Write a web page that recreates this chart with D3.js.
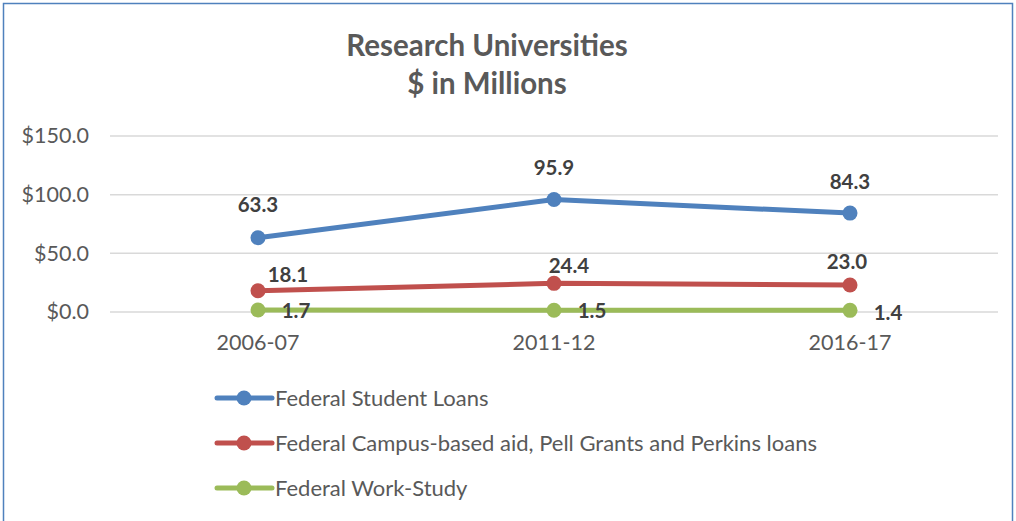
<!DOCTYPE html>
<html>
<head>
<meta charset="utf-8">
<script src="https://cdn.jsdelivr.net/npm/d3@7"></script>
<style>
  html, body { margin: 0; padding: 0; background: #fff; }
  svg { display: block; }
  text { font-family: Lato, "Open Sans", sans-serif; }
</style>
</head>
<body>
<svg id="chart" width="1016" height="521"></svg>
<script>
// Chart data
const titleLines = ["Research Universities", "$ in Millions"];
const years = ["2006-07", "2011-12", "2016-17"];
const seriesNames = [
  "Federal Student Loans",
  "Federal Campus-based aid, Pell Grants and Perkins loans",
  "Federal Work-Study"
];
const studentLoans = [63.3, 95.9, 84.3];
const campusAid = [18.1, 24.4, 23.0];
const workStudy = [1.7, 1.5, 1.4];
const yTicks = [0, 50, 100, 150];

// Presentation
const colors = ["#4F81BD", "#C0504D", "#9BBB59"];
// hand-placed label offsets (dx, dy) relative to each point
const labelOffsets = [
  [[0, -33], [0, -32], [0, -31]],
  [[30, -16], [15, -18], [-3, -23]],
  [[38, 1], [38, 1], [38, 2]]
];

const seriesValues = [studentLoans, campusAid, workStudy];
const svg = d3.select("#chart");
const grey = "#595959";

// outer frame
svg.append("rect")
  .attr("x", 3.5).attr("y", 3.5)
  .attr("width", 1009).attr("height", 530)
  .attr("fill", "#fff")
  .attr("stroke", "#4F81BD").attr("stroke-width", 1.5);

// title
svg.append("g").selectAll("text").data(titleLines).join("text")
  .attr("x", 487).attr("y", (d, i) => 56 + i * 38)
  .attr("text-anchor", "middle")
  .attr("font-size", 29.5).attr("font-weight", "bold")
  .attr("fill", grey)
  .text(d => d);

const x = d3.scaleBand().domain(years).range([110, 998]);
const y = d3.scaleLinear().domain([0, 150]).range([312, 136]);

// gridlines
svg.append("g").selectAll("line").data(yTicks).join("line")
  .attr("x1", 110).attr("x2", 998)
  .attr("y1", d => y(d)).attr("y2", d => y(d))
  .attr("stroke", "#D9D9D9").attr("stroke-width", 1.5);

// y axis
const yAxis = svg.append("g")
  .attr("transform", "translate(89,0)")
  .call(d3.axisLeft(y).tickValues(yTicks).tickSize(0).tickPadding(0)
    .tickFormat(d => "$" + d3.format(".1f")(d)));
yAxis.select(".domain").remove();
yAxis.selectAll("text")
  .attr("font-size", 21.5).attr("fill", grey)
  .style("font-family", "Lato, 'Open Sans', sans-serif");

// x axis
const xAxis = svg.append("g")
  .attr("transform", "translate(0,331)")
  .call(d3.axisBottom(x).tickSize(0).tickPadding(0));
xAxis.select(".domain").remove();
xAxis.selectAll("text")
  .attr("font-size", 21.5).attr("fill", grey).attr("dy", "0.9em")
  .style("font-family", "Lato, 'Open Sans', sans-serif");

const cx = d => x(d) + x.bandwidth() / 2;
const line = d3.line().x((d, i) => cx(years[i])).y(d => y(d));

// series lines, markers, value labels
seriesValues.forEach((vals, s) => {
  const g = svg.append("g");
  g.append("path").datum(vals)
    .attr("d", line)
    .attr("fill", "none")
    .attr("stroke", colors[s]).attr("stroke-width", 5)
    .attr("stroke-linecap", "round").attr("stroke-linejoin", "round");
  g.selectAll("circle").data(vals).join("circle")
    .attr("cx", (d, i) => cx(years[i])).attr("cy", d => y(d))
    .attr("r", 7.5).attr("fill", colors[s]);
});
seriesValues.forEach((vals, s) => {
  svg.append("g").selectAll("text").data(vals).join("text")
    .attr("x", (d, i) => cx(years[i]) + labelOffsets[s][i][0])
    .attr("y", (d, i) => y(d) + labelOffsets[s][i][1])
    .attr("dy", "0.35em")
    .attr("text-anchor", "middle")
    .attr("font-size", 20.5).attr("font-weight", "bold")
    .attr("fill", "#404040")
    .text(d => d3.format(".1f")(d));
});

// legend
const legend = svg.append("g").selectAll("g").data(seriesNames).join("g")
  .attr("transform", (d, i) => `translate(215,${398 + i * 45})`);
legend.append("line")
  .attr("x1", 2).attr("x2", 57)
  .attr("stroke", (d, i) => colors[i]).attr("stroke-width", 5)
  .attr("stroke-linecap", "round");
legend.append("circle")
  .attr("cx", 29).attr("r", 7.5)
  .attr("fill", (d, i) => colors[i]);
legend.append("text")
  .attr("x", 60).attr("dy", "0.35em")
  .attr("font-size", 22).attr("fill", grey)
  .text(d => d);
</script>
</body>
</html>
